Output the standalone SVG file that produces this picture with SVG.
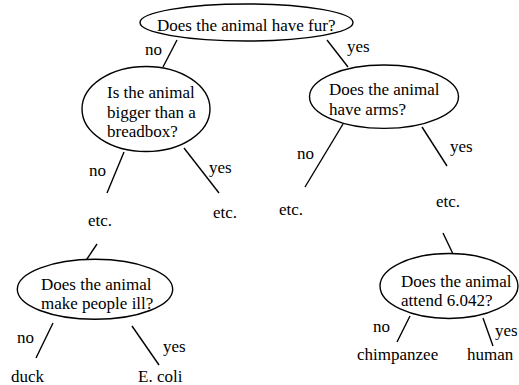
<svg xmlns="http://www.w3.org/2000/svg" width="519" height="385" viewBox="0 0 519 385">
<style>
svg text{font-family:"Liberation Serif","Times New Roman",serif !important;font-size:17px;fill:#000}
.n ellipse{fill:#fff;stroke:#000;stroke-width:1.4}
#edges line{stroke:#000;stroke-width:1.4}
</style>
<rect width="519" height="385" fill="#fff"/>
<g id="edges">
<line x1="177" y1="40" x2="163" y2="67"/>
<line x1="327" y1="40" x2="348" y2="67"/>
<line x1="124" y1="152" x2="107" y2="193"/>
<line x1="184" y1="148" x2="219" y2="193"/>
<line x1="343" y1="124" x2="305" y2="187"/>
<line x1="422" y1="127" x2="447" y2="166"/>
<line x1="443" y1="233" x2="453" y2="254"/>
<line x1="97" y1="244" x2="85" y2="262"/>
<line x1="53" y1="323" x2="36" y2="358"/>
<line x1="132" y1="326" x2="159" y2="365"/>
<line x1="410" y1="316" x2="397" y2="342"/>
<line x1="483" y1="318" x2="493" y2="346"/>
</g>
<g id="labels">
<text x="145" y="55">no</text>
<text x="347" y="52">yes</text>
<text x="89" y="176">no</text>
<text x="209" y="173">yes</text>
<text x="297" y="159">no</text>
<text x="450" y="152">yes</text>
<text x="17" y="343">no</text>
<text x="163" y="352">yes</text>
<text x="373" y="332">no</text>
<text x="495" y="336">yes</text>
</g>
<g id="root" class="n">
<ellipse cx="246.5" cy="22.5" rx="106.5" ry="18.5"/>
<text x="157" y="31">Does the animal have fur?</text>
</g>
<g id="breadbox" class="n">
<ellipse cx="146" cy="109" rx="64" ry="42.5"/>
<text x="107" y="98">Is the animal</text>
<text x="107" y="118">bigger than a</text>
<text x="107" y="137">breadbox?</text>
</g>
<g id="arms" class="n">
<ellipse cx="384" cy="96.7" rx="74.5" ry="31.7"/>
<text x="329" y="95">Does the animal</text>
<text x="329" y="115">have arms?</text>
</g>
<g id="etc1"><text x="88" y="226">etc.</text></g>
<g id="etc2"><text x="213" y="218">etc.</text></g>
<g id="etc3"><text x="279" y="215">etc.</text></g>
<g id="etc4"><text x="436" y="207">etc.</text></g>
<g id="ill" class="n">
<ellipse cx="95" cy="289.3" rx="77.7" ry="30"/>
<text x="41" y="290">Does the animal</text>
<text x="41" y="309">make people ill?</text>
</g>
<g id="attend" class="n">
<ellipse cx="449" cy="286" rx="69" ry="32.5"/>
<text x="401" y="287">Does the animal</text>
<text x="401" y="306">attend 6.042?</text>
</g>
<g id="duck"><text x="11" y="382">duck</text></g>
<g id="ecoli"><text x="138" y="382">E. coli</text></g>
<g id="chimp"><text x="357" y="360">chimpanzee</text></g>
<g id="human"><text x="467" y="360">human</text></g>
</svg>
